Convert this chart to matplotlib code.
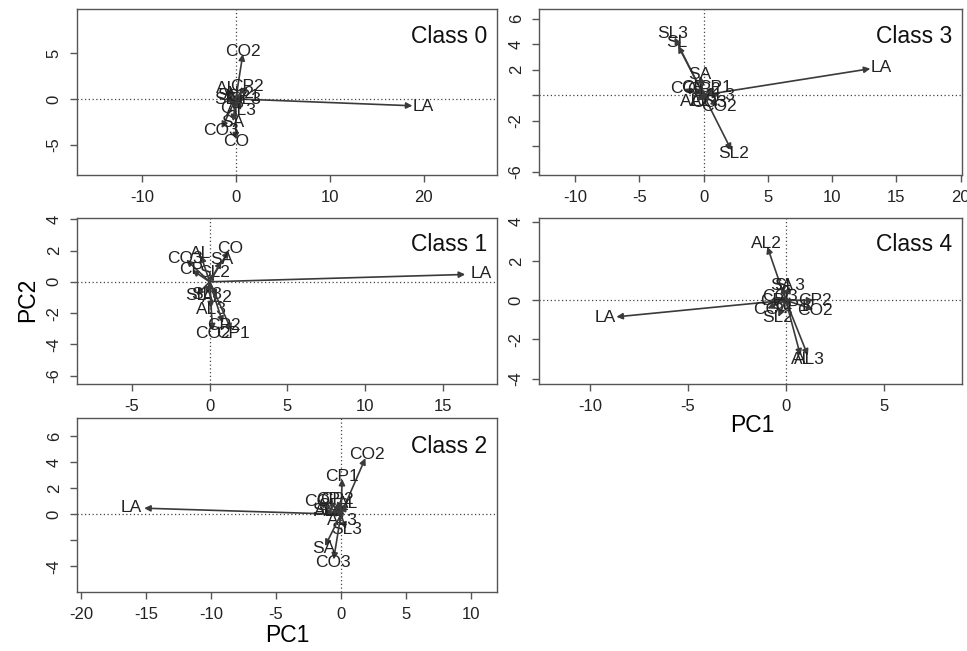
import matplotlib
matplotlib.use("Agg")
import matplotlib.pyplot as plt

plt.rcParams['font.family'] = ['Liberation Sans', 'DejaVu Sans']

# noms des variables (fleches du biplot)
variables = ["LA", "SL", "SL2", "SL3", "AL", "AL2", "AL3",
             "CO", "CO2", "CO3", "CP", "CP1", "CP2", "SA"]

# chargements PC1 / PC2, par classe
class0_pc1 = [20.0, -1.2, -0.3, 1.0, -1.0, 0.4, 0.6, 0.0, 0.8, -1.6, -0.4, 0.8, 1.2, -0.3]
class0_pc2 = [-0.8, -0.1, 0.4, -0.1, 1.1, 0.6, -1.3, -4.7, 5.2, -3.4, -1.0, 0.3, 1.4, -2.6]

class1_pc1 = [17.5, -0.9, 0.3, -0.2, -0.6, 0.5, 0.1, 1.3, 0.2, -1.6, -1.2, 1.5, 0.9, 0.8]
class1_pc2 = [0.5, -0.9, 0.6, -0.8, 1.8, -1.0, -1.8, 2.1, -3.3, 1.5, 0.8, -3.3, -2.8, 1.4]

class2_pc1 = [-16.1, -1.4, -0.6, 0.4, 0.5, -0.9, 0.1, -1.8, 2.0, -0.6, -1.0, 0.1, -0.3, -1.3]
class2_pc2 = [0.5, 0.3, 0.7, -1.2, 0.8, 0.2, -0.5, 1.0, 4.6, -3.7, 1.1, 2.9, 1.1, -2.6]

class3_pc1 = [13.8, -2.1, 2.3, -2.4, -0.2, -0.6, 1.3, -1.6, 1.2, 0.4, -0.8, 0.9, 0.0, -0.3]
class3_pc2 = [2.2, 4.1, -4.6, 4.8, -0.5, -0.5, 0.0, 0.5, -0.9, -0.6, 0.6, 0.6, 0.4, 1.6]

class4_pc1 = [-9.2, -0.2, -0.4, 0.2, 0.8, -1.0, 1.2, -1.0, 1.5, -0.3, -0.7, 0.3, 1.5, -0.2]
class4_pc2 = [-0.9, -0.2, -0.9, 0.75, -3.0, 2.9, -3.0, -0.45, -0.5, 0.2, 0.0, -0.3, 0.0, 0.75]

# ticks et etiquettes des axes
class0_xticks = [-10, 0, 10, 20]
class0_yticks = [-5, 0, 5]
class0_ylabels = ["-5", "0", "5"]
class1_xticks = [-5, 0, 5, 10, 15]
class1_yticks = [-6, -4, -2, 0, 2, 4]
class1_ylabels = ["-6", "-4", "-2", "0", "2", "4"]
class2_xticks = [-20, -15, -10, -5, 0, 5, 10]
class2_yticks = [-4, -2, 0, 2, 4, 6]
class2_ylabels = ["-4", "", "0", "2", "4", "6"]
class3_xticks = [-10, -5, 0, 5, 10, 15, 20]
class3_yticks = [-6, -4, -2, 0, 2, 4, 6]
class3_ylabels = ["-6", "", "-2", "", "2", "4", "6"]
class4_xticks = [-10, -5, 0, 5]
class4_yticks = [-4, -2, 0, 2, 4]
class4_ylabels = ["-4", "-2", "0", "2", "4"]

W, H = 967, 651
fig = plt.figure(figsize=(W / 100, H / 100), dpi=100)


def make_ax(l, r, t, b):
    return fig.add_axes([l / W, 1 - b / H, (r - l) / W, (b - t) / H])


panels = [
    ("Class 0", make_ax(77, 497, 9, 175), class0_pc1, class0_pc2, (-16.9, 27.8), (-8.3, 9.8),
     class0_xticks, class0_yticks, class0_ylabels),
    ("Class 3", make_ax(539, 962, 9, 175), class3_pc1, class3_pc2, (-12.8, 20.1), (-6.27, 6.75),
     class3_xticks, class3_yticks, class3_ylabels),
    ("Class 1", make_ax(77, 497, 217.5, 384), class1_pc1, class1_pc2, (-8.54, 18.5), (-6.53, 4.11),
     class1_xticks, class1_yticks, class1_ylabels),
    ("Class 4", make_ax(539, 962, 217.5, 384), class4_pc1, class4_pc2, (-12.6, 9.0), (-4.27, 4.22),
     class4_xticks, class4_yticks, class4_ylabels),
    ("Class 2", make_ax(77, 497, 418, 592), class2_pc1, class2_pc2, (-20.3, 12.0), (-5.98, 7.41),
     class2_xticks, class2_yticks, class2_ylabels),
]

for titre, ax, px, py, xl, yl, xt, yt, ylab in panels:
    ax.set_xlim(xl)
    ax.set_ylim(yl)
    ax.axhline(0, color="#444444", lw=0.9, ls=(0, (1, 2)))
    ax.axvline(0, color="#444444", lw=0.9, ls=(0, (1, 2)))
    for nom, x, y in zip(variables, px, py):
        ax.annotate("", xy=(0.94 * x, 0.94 * y), xytext=(0, 0),
                    arrowprops=dict(arrowstyle="-|>", color="#3a3a3a", lw=1.2,
                                    mutation_scale=9, shrinkA=0, shrinkB=0))
        ax.text(x, y, nom, ha="center", va="center", fontsize=12.5, color="#222222")
    ax.text(0.976, 0.835, titre, transform=ax.transAxes, ha="right", va="center",
            fontsize=16.5, color="#111111")
    ax.set_xticks(xt)
    ax.set_xticklabels([str(v) for v in xt])
    ax.set_yticks(yt)
    ax.set_yticklabels(ylab, rotation=90, va="center")
    ax.tick_params(length=5, width=1, color="#555555", labelsize=12, labelcolor="#222222", pad=6)
    for s in ax.spines.values():
        s.set_color("#555555")
        s.set_linewidth(1)

fig.text(28 / W, 1 - 300 / H, "PC2", rotation=90, ha="center", va="center", fontsize=16.5)
fig.text(752 / W, 1 - 425 / H, "PC1", ha="center", va="center", fontsize=16.5)
fig.text(287 / W, 1 - 635 / H, "PC1", ha="center", va="center", fontsize=16.5)

fig.savefig("out.png", dpi=100)
